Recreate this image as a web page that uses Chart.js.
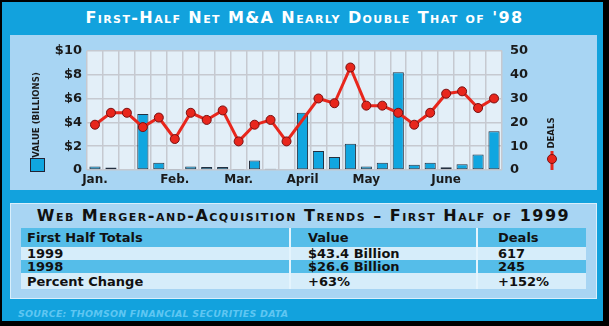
<!DOCTYPE html>
<html>
<head>
<meta charset="utf-8">
<script src="https://cdn.jsdelivr.net/npm/chart.js@4.4.0/dist/chart.umd.min.js"></script>
<style>
  body { margin:0; width:609px; height:326px; background:#000; overflow:hidden; position:relative; font-family:"DejaVu Sans", sans-serif; }
  #frame { position:absolute; left:2px; top:2px; width:601px; height:319px; background:#12a2dd; }
  #title { position:absolute; left:0; top:8px; width:609px; text-align:center; color:#fff; font-weight:bold; font-size:16px; font-variant:small-caps; letter-spacing:1.4px; }
  #top { position:absolute; left:10px; top:35px; width:587px; height:155px; background:#a8d5f3; }
  #bottom { position:absolute; left:10px; top:203px; width:585px; height:94px; background:#a8d5f3; border:1px solid #d8effc; }
  #ttitle { position:absolute; left:10px; top:206px; width:587px; text-align:center; color:#111; font-weight:bold; font-size:16px; font-variant:small-caps; letter-spacing:1.5px; }
  table { position:absolute; left:21px; top:228px; width:565px; border-collapse:collapse; font-size:13px; font-weight:bold; color:#111; }
  td { padding:0; border-left:2px solid #e4f4fd; line-height:13px; }
  td:first-child { border-left:none; }
  td.c1 { padding-left:6px; }
  td.c2 { padding-left:17px; }
  td.c3 { padding-left:20px; }
  tr.band td { background:#55bde9; }
  tr.light td { background:#d6edfa; }
  #source { position:absolute; left:18px; top:308px; color:#5ec6f2; font-size:9.5px; font-weight:bold; font-style:italic; letter-spacing:0.2px; }
</style>
</head>
<body>
<div id="frame"></div>
<div id="title">First-Half Net M&amp;A Nearly Double That of '98</div>
<div id="top"><canvas id="myChart" width="587" height="155"></canvas></div>
<div id="bottom"></div>
<div id="ttitle">Web Merger-and-Acquisition Trends – First Half of 1999</div>
<table>
  <tr class="band" style="height:19px"><td class="c1" style="width:262px">First Half Totals</td><td class="c2" style="width:168px">Value</td><td class="c3">Deals</td></tr>
  <tr class="light" style="height:13px"><td class="c1">1999</td><td class="c2">$43.4 Billion</td><td class="c3">617</td></tr>
  <tr class="band" style="height:13px"><td class="c1">1998</td><td class="c2">$26.6 Billion</td><td class="c3">245</td></tr>
  <tr class="light" style="height:16px"><td class="c1">Percent Change</td><td class="c2">+63%</td><td class="c3">+152%</td></tr>
</table>
<div id="source">SOURCE: THOMSON FINANCIAL SECURITIES DATA</div>
<script>
// weekly data, first half of 1999
const months = ['Jan.', '', '', '', '', 'Feb.', '', '', '', 'Mar.', '', '', '', 'April', '', '', '', 'May', '', '', '', '', 'June', '', '', ''];
const valueBillions = [0.3, 0.2, null, 4.7, 0.6, 0.05, 0.3, 0.25, 0.25, 0.05, 0.8, 0.1, null, 4.8, 1.6, 1.1, 2.2, 0.3, 0.6, 8.2, 0.45, 0.6, 0.24, 0.48, 1.3, 3.25];
const deals = [19, 24, 24, 18, 22, 13, 24, 21, 25, 12, 19, 21, 12, null, 30, 28, 43, 27, 27, 24, 19, 24, 32, 33, 26, 30];

const barBlue = '#10a6e0';
const lineRed = '#e8261c';

const decor = {
    id: 'decor',
    beforeDraw(chart) {
        const { ctx, chartArea: a } = chart;
        ctx.save();
        ctx.fillStyle = '#e3eff8';
        ctx.fillRect(a.left, a.top, a.right - a.left, a.bottom - a.top);
        ctx.restore();
    },
    afterDraw(chart) {
        const ctx = chart.ctx;
        ctx.save();
        ctx.fillStyle = '#1a1a1a';
        ctx.font = 'bold 9.5px "DejaVu Sans Condensed", "DejaVu Sans"';
        ctx.textAlign = 'center';
        ctx.textBaseline = 'middle';
        ctx.translate(27, 80);
        ctx.rotate(-Math.PI / 2);
        ctx.fillText('VALUE (BILLIONS)', 0, 0);
        ctx.restore();

        ctx.save();
        ctx.fillStyle = '#1a1a1a';
        ctx.font = 'bold 9.5px "DejaVu Sans Condensed", "DejaVu Sans"';
        ctx.textAlign = 'center';
        ctx.textBaseline = 'middle';
        ctx.translate(542, 98);
        ctx.rotate(-Math.PI / 2);
        ctx.fillText('DEALS', 0, 0);
        ctx.restore();

        // legend markers
        ctx.save();
        ctx.fillStyle = barBlue;
        ctx.strokeStyle = '#223';
        ctx.lineWidth = 1;
        ctx.fillRect(20.5, 123.5, 14, 13);
        ctx.strokeRect(20.5, 123.5, 14, 13);
        ctx.strokeStyle = lineRed;
        ctx.lineWidth = 3;
        ctx.beginPath();
        ctx.moveTo(542, 116);
        ctx.lineTo(542, 135);
        ctx.stroke();
        ctx.beginPath();
        ctx.arc(542, 124, 4.5, 0, Math.PI * 2);
        ctx.fillStyle = lineRed;
        ctx.fill();
        ctx.strokeStyle = '#7a1010';
        ctx.lineWidth = 1;
        ctx.stroke();
        ctx.restore();
    }
};

const ctx = document.getElementById('myChart');
Chart.defaults.color = '#1a1a1a';
Chart.defaults.font.family = '"DejaVu Sans", sans-serif';
new Chart(ctx, {
    type: 'bar',
    data: {
        labels: months,
        datasets: [{
            type: 'line',
            label: 'Deals',
            data: deals,
            yAxisID: 'y1',
            borderColor: lineRed,
            borderWidth: 3,
            pointRadius: 4.5,
            pointBackgroundColor: lineRed,
            pointBorderColor: '#7a1010',
            pointBorderWidth: 1,
            spanGaps: true,
            tension: 0,
            order: 0
        }, {
            label: 'Value (billions)',
            data: valueBillions,
            yAxisID: 'y',
            backgroundColor: barBlue,
            borderColor: '#243040',
            borderWidth: 1,
            borderSkipped: false,
            categoryPercentage: 1,
            barPercentage: 0.7,
            order: 1
        }]
    },
    options: {
        responsive: false,
        animation: false,
        layout: { padding: { top: 10 } },
        plugins: { legend: { display: false }, tooltip: { enabled: false } },
        scales: {
            x: {
                grid: { color: '#c6c9d0', lineWidth: 1.5, drawTicks: false },
                border: { display: false },
                ticks: { autoSkip: false, maxRotation: 0, padding: 3, font: { size: 12, weight: 'bold' } },
                afterFit(axis) { axis.height = 20; }
            },
            y: {
                position: 'left',
                min: 0, max: 10,
                ticks: { stepSize: 2, padding: 5, font: { size: 13, weight: 'bold' },
                    callback: v => v === 0 ? '0' : '$' + v },
                grid: { color: '#c6c9d0', lineWidth: 1.5, drawTicks: false },
                border: { display: false },
                afterFit(axis) { axis.width = 77; }
            },
            y1: {
                position: 'right',
                min: 0, max: 50,
                ticks: { stepSize: 10, padding: 8, font: { size: 13, weight: 'bold' } },
                grid: { display: false, drawTicks: false },
                border: { display: false },
                afterFit(axis) { axis.width = 95; }
            }
        }
    },
    plugins: [decor]
});
</script>
</body>
</html>
